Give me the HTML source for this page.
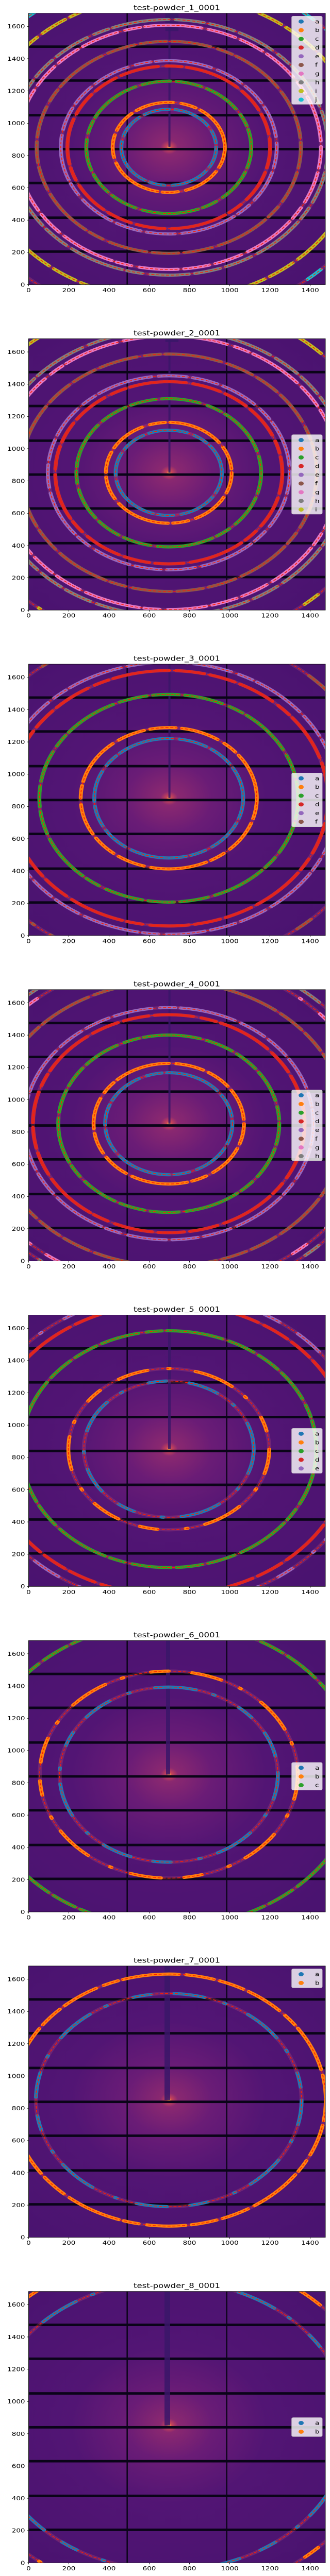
<!DOCTYPE html>
<html><head><meta charset="utf-8"><style>
html,body{margin:0;padding:0;background:#fff;width:100%;height:100%;overflow:hidden;}
svg{display:block;position:fixed;left:0;top:0;width:100vw;height:100vh;font-family:"DejaVu Sans","Liberation Sans",sans-serif;}
.glow{fill:none;stroke:#e0607a;stroke-opacity:.22;stroke-width:8}
.p{fill:none;stroke-width:7.5;stroke-linecap:round;stroke-dasharray:50 12 75 16 30 10 110 14 55 12}
.s{fill:none;stroke-width:7.5;stroke-linecap:round;stroke-dasharray:60 40 4 50 80 35 4 55 35 45}
.f{fill:none;stroke:#ff1e00;stroke-width:1.6;stroke-dasharray:6 3.5}
.t{font-size:16.5px;text-anchor:middle;fill:#000}
.tk{font-size:13.5px;fill:#000}
.lg{font-size:13.5px;fill:#000}
</style></head><body>
<svg viewBox="0 0 640 6226" preserveAspectRatio="none" xmlns="http://www.w3.org/2000/svg" xmlns:xlink="http://www.w3.org/1999/xlink">
<defs>
<clipPath id="ax"><rect x="55.5" y="32" width="575.5" height="656"/></clipPath>
<radialGradient id="bg" gradientUnits="userSpaceOnUse" cx="328" cy="356" r="420">
<stop offset="0" stop-color="#ffb040"/>
<stop offset="0.012" stop-color="#c84458"/>
<stop offset="0.04" stop-color="#8a2870"/>
<stop offset="0.2" stop-color="#6a1c76"/>
<stop offset="0.45" stop-color="#521574"/>
<stop offset="1" stop-color="#4a1370"/>
</radialGradient>
<g id="base">
<rect x="55.5" y="32" width="575.5" height="656" fill="url(#bg)"/>
<g fill="#0a0418">
<rect x="55.5" y="109.8" width="575.5" height="6"/>
<rect x="55.5" y="191.7" width="575.5" height="6"/>
<rect x="55.5" y="275.5" width="575.5" height="6"/>
<rect x="55.5" y="357.4" width="575.5" height="6"/>
<rect x="55.5" y="439.3" width="575.5" height="6"/>
<rect x="55.5" y="523.2" width="575.5" height="6"/>
<rect x="55.5" y="605.1" width="575.5" height="6"/>
<rect x="245.4" y="32" width="2.5" height="656"/>
<rect x="438.5" y="32" width="2.5" height="656"/>
</g>
</g>
<g id="axes">
<rect x="55.5" y="32" width="575.5" height="656" fill="none" stroke="#000" stroke-width="0.9"/>
<g stroke="#000" stroke-width="0.9">
<path d="M55.5 688v3.5M133.5 688v3.5M211.5 688v3.5M289.5 688v3.5M367.5 688v3.5M445.5 688v3.5M523.5 688v3.5M601.5 688v3.5"/>
<path d="M55.5 688h-3.5M55.5 610h-3.5M55.5 532h-3.5M55.5 454h-3.5M55.5 376h-3.5M55.5 298h-3.5M55.5 220h-3.5M55.5 142h-3.5M55.5 64h-3.5"/>
</g>
<g class="tk" text-anchor="middle">
<text x="55.5" y="706">0</text><text x="133.5" y="706">200</text><text x="211.5" y="706">400</text><text x="289.5" y="706">600</text><text x="367.5" y="706">800</text><text x="445.5" y="706">1000</text><text x="523.5" y="706">1200</text><text x="601.5" y="706">1400</text>
</g>
<g class="tk" text-anchor="end">
<text x="48.5" y="692.8">0</text><text x="48.5" y="614.8">200</text><text x="48.5" y="536.8">400</text><text x="48.5" y="458.8">600</text><text x="48.5" y="380.8">800</text><text x="48.5" y="302.8">1000</text><text x="48.5" y="224.8">1200</text><text x="48.5" y="146.8">1400</text><text x="48.5" y="68.8">1600</text>
</g>
</g>
</defs>

<!-- Panel 1 -->
<g>
<text class="t" x="343" y="24">test-powder_1_0001</text>
<g clip-path="url(#ax)">
<use xlink:href="#base" href="#base"/>
<rect x="326.6" y="32" width="4" height="324" fill="#3a1668" opacity="0.85"/>
<rect x="320.7" y="32" width="25.4" height="43" fill="#3a1668" opacity="0.85"/>
<g transform="translate(327.3,356.1)">
<circle class="glow" r="92"/><circle class="glow" r="108.8"/><circle class="glow" r="159.9"/><circle class="glow" r="196.6"/><circle class="glow" r="209.4"/><circle class="glow" r="256.2"/><circle class="glow" r="295.2"/><circle class="glow" r="308.9"/><circle class="glow" r="368.6"/><circle class="glow" r="417.3"/>
<circle class="p" r="92" stroke="#1f77b4"/><circle class="p" r="108.8" stroke="#ff7f0e"/><circle class="p" r="159.9" stroke="#2ca02c"/><circle class="p" r="196.6" stroke="#d62728"/><circle class="p" r="209.4" stroke="#9467bd"/><circle class="p" r="256.2" stroke="#8c564b"/><circle class="p" r="295.2" stroke="#e377c2"/><circle class="p" r="308.9" stroke="#7f7f7f"/><circle class="p" r="368.6" stroke="#bcbd22"/><circle class="s" r="417.3" stroke="#17becf"/>
<circle class="f" r="92"/><circle class="f" r="108.8"/><circle class="f" r="159.9"/><circle class="f" r="196.6"/><circle class="f" r="209.4"/><circle class="f" r="256.2"/><circle class="f" r="295.2"/><circle class="f" r="308.9"/><circle class="f" r="368.6"/><circle class="f" r="417.3"/>
</g>
</g>
<use xlink:href="#axes" href="#axes"/>
<g>
<rect x="565.7" y="39" width="59.3" height="213" rx="3" fill="#fff" fill-opacity="0.8" stroke="#ccc" stroke-width="0.8"/>
<circle cx="584" cy="52" r="5" fill="#1f77b4"/><text class="lg" x="611" y="56.5">a</text>
<circle cx="584" cy="73" r="5" fill="#ff7f0e"/><text class="lg" x="611" y="77.5">b</text>
<circle cx="584" cy="94" r="5" fill="#2ca02c"/><text class="lg" x="611" y="98.5">c</text>
<circle cx="584" cy="115" r="5" fill="#d62728"/><text class="lg" x="611" y="119.5">d</text>
<circle cx="584" cy="136" r="5" fill="#9467bd"/><text class="lg" x="611" y="140.5">e</text>
<circle cx="584" cy="157" r="5" fill="#8c564b"/><text class="lg" x="611" y="161.5">f</text>
<circle cx="584" cy="178" r="5" fill="#e377c2"/><text class="lg" x="611" y="182.5">g</text>
<circle cx="584" cy="199" r="5" fill="#7f7f7f"/><text class="lg" x="611" y="203.5">h</text>
<circle cx="584" cy="220" r="5" fill="#bcbd22"/><text class="lg" x="611" y="224.5">i</text>
<circle cx="584" cy="241" r="5" fill="#17becf"/><text class="lg" x="611" y="245.5">j</text>
</g>
</g>

<!-- Panel 2 -->
<g transform="translate(0,786.6)">
<text class="t" x="343" y="24">test-powder_2_0001</text>
<g clip-path="url(#ax)">
<use xlink:href="#base" href="#base"/>
<rect x="326.6" y="32" width="4" height="324" fill="#3a1668" opacity="0.85"/>
<rect x="320.7" y="32" width="25.4" height="8" fill="#3a1668" opacity="0.85"/>
<g transform="translate(327.3,356.1)">
<circle class="glow" r="103"/><circle class="glow" r="121.9"/><circle class="glow" r="179.1"/><circle class="glow" r="220.2"/><circle class="glow" r="234.5"/><circle class="glow" r="286.9"/><circle class="glow" r="330.6"/><circle class="glow" r="346"/><circle class="glow" r="412.8"/>
<circle class="p" r="103" stroke="#1f77b4"/><circle class="p" r="121.9" stroke="#ff7f0e"/><circle class="p" r="179.1" stroke="#2ca02c"/><circle class="p" r="220.2" stroke="#d62728"/><circle class="p" r="234.5" stroke="#9467bd"/><circle class="p" r="286.9" stroke="#8c564b"/><circle class="p" r="330.6" stroke="#e377c2"/><circle class="p" r="346" stroke="#7f7f7f"/><circle class="s" r="412.8" stroke="#bcbd22"/>
<circle class="f" r="103"/><circle class="f" r="121.9"/><circle class="f" r="179.1"/><circle class="f" r="220.2"/><circle class="f" r="234.5"/><circle class="f" r="286.9"/><circle class="f" r="330.6"/><circle class="f" r="346"/><circle class="f" r="412.8"/>
</g>
</g>
<use xlink:href="#axes" href="#axes"/>
<g>
<rect x="565.7" y="264" width="59.3" height="192" rx="3" fill="#fff" fill-opacity="0.8" stroke="#ccc" stroke-width="0.8"/>
<circle cx="584" cy="277" r="5" fill="#1f77b4"/><text class="lg" x="611" y="281.5">a</text>
<circle cx="584" cy="298" r="5" fill="#ff7f0e"/><text class="lg" x="611" y="302.5">b</text>
<circle cx="584" cy="319" r="5" fill="#2ca02c"/><text class="lg" x="611" y="323.5">c</text>
<circle cx="584" cy="340" r="5" fill="#d62728"/><text class="lg" x="611" y="344.5">d</text>
<circle cx="584" cy="361" r="5" fill="#9467bd"/><text class="lg" x="611" y="365.5">e</text>
<circle cx="584" cy="382" r="5" fill="#8c564b"/><text class="lg" x="611" y="386.5">f</text>
<circle cx="584" cy="403" r="5" fill="#e377c2"/><text class="lg" x="611" y="407.5">g</text>
<circle cx="584" cy="424" r="5" fill="#7f7f7f"/><text class="lg" x="611" y="428.5">h</text>
<circle cx="584" cy="445" r="5" fill="#bcbd22"/><text class="lg" x="611" y="449.5">i</text>
</g>
</g>

<!-- Panel 3 -->
<g transform="translate(0,1573.2)">
<text class="t" x="343" y="24">test-powder_3_0001</text>
<g clip-path="url(#ax)">
<use xlink:href="#base" href="#base"/>
<rect x="326.6" y="32" width="4" height="324" fill="#3a1668" opacity="0.85"/>
<g transform="translate(327.3,356.1)">
<circle class="glow" r="144.4"/><circle class="glow" r="170.8"/><circle class="glow" r="251"/><circle class="glow" r="308.7"/><circle class="glow" r="328.8"/><circle class="glow" r="402.2"/>
<circle class="p" r="144.4" stroke="#1f77b4"/><circle class="p" r="170.8" stroke="#ff7f0e"/><circle class="p" r="251" stroke="#2ca02c"/><circle class="p" r="308.7" stroke="#d62728"/><circle class="p" r="328.8" stroke="#9467bd"/><circle class="s" r="402.2" stroke="#8c564b"/>
<circle class="f" r="144.4"/><circle class="f" r="170.8"/><circle class="f" r="251"/><circle class="f" r="308.7"/><circle class="f" r="328.8"/><circle class="f" r="402.2"/>
</g>
</g>
<use xlink:href="#axes" href="#axes"/>
<g>
<rect x="565.7" y="295" width="59.3" height="130" rx="3" fill="#fff" fill-opacity="0.8" stroke="#ccc" stroke-width="0.8"/>
<circle cx="584" cy="308" r="5" fill="#1f77b4"/><text class="lg" x="611" y="312.5">a</text>
<circle cx="584" cy="329" r="5" fill="#ff7f0e"/><text class="lg" x="611" y="333.5">b</text>
<circle cx="584" cy="350" r="5" fill="#2ca02c"/><text class="lg" x="611" y="354.5">c</text>
<circle cx="584" cy="371" r="5" fill="#d62728"/><text class="lg" x="611" y="375.5">d</text>
<circle cx="584" cy="392" r="5" fill="#9467bd"/><text class="lg" x="611" y="396.5">e</text>
<circle cx="584" cy="413" r="5" fill="#8c564b"/><text class="lg" x="611" y="417.5">f</text>
</g>
</g>

<!-- Panel 4 -->
<g transform="translate(0,2359.8)">
<text class="t" x="343" y="24">test-powder_4_0001</text>
<g clip-path="url(#ax)">
<use xlink:href="#base" href="#base"/>
<rect x="326.6" y="32" width="4" height="324" fill="#3a1668" opacity="0.85"/>
<g transform="translate(327.3,356.1)">
<circle class="glow" r="123.3"/><circle class="glow" r="145.8"/><circle class="glow" r="214.3"/><circle class="glow" r="263.4"/><circle class="glow" r="280.6"/><circle class="glow" r="343.3"/><circle class="glow" r="395.6"/><circle class="glow" r="413.9"/>
<circle class="p" r="123.3" stroke="#1f77b4"/><circle class="p" r="145.8" stroke="#ff7f0e"/><circle class="p" r="214.3" stroke="#2ca02c"/><circle class="p" r="263.4" stroke="#d62728"/><circle class="p" r="280.6" stroke="#9467bd"/><circle class="p" r="343.3" stroke="#8c564b"/><circle class="s" r="395.6" stroke="#e377c2"/><circle class="s" r="413.9" stroke="#7f7f7f"/>
<circle class="f" r="123.3"/><circle class="f" r="145.8"/><circle class="f" r="214.3"/><circle class="f" r="263.4"/><circle class="f" r="280.6"/><circle class="f" r="343.3"/><circle class="f" r="395.6"/><circle class="f" r="413.9"/>
</g>
</g>
<use xlink:href="#axes" href="#axes"/>
<g>
<rect x="565.7" y="274.5" width="59.3" height="171" rx="3" fill="#fff" fill-opacity="0.8" stroke="#ccc" stroke-width="0.8"/>
<circle cx="584" cy="287.5" r="5" fill="#1f77b4"/><text class="lg" x="611" y="292">a</text>
<circle cx="584" cy="308.5" r="5" fill="#ff7f0e"/><text class="lg" x="611" y="313">b</text>
<circle cx="584" cy="329.5" r="5" fill="#2ca02c"/><text class="lg" x="611" y="334">c</text>
<circle cx="584" cy="350.5" r="5" fill="#d62728"/><text class="lg" x="611" y="355">d</text>
<circle cx="584" cy="371.5" r="5" fill="#9467bd"/><text class="lg" x="611" y="376">e</text>
<circle cx="584" cy="392.5" r="5" fill="#8c564b"/><text class="lg" x="611" y="397">f</text>
<circle cx="584" cy="413.5" r="5" fill="#e377c2"/><text class="lg" x="611" y="418">g</text>
<circle cx="584" cy="434.5" r="5" fill="#7f7f7f"/><text class="lg" x="611" y="439">h</text>
</g>
</g>

<!-- Panel 5 -->
<g transform="translate(0,3146.4)">
<text class="t" x="343" y="24">test-powder_5_0001</text>
<g clip-path="url(#ax)">
<use xlink:href="#base" href="#base"/>
<rect x="326" y="32" width="5" height="324" fill="#3a1668" opacity="0.85"/>
<g transform="translate(327.3,356.1)">
<circle class="glow" r="164.7"/><circle class="glow" r="194.8"/><circle class="glow" r="286.2"/><circle class="glow" r="351.9"/><circle class="glow" r="374.8"/>
<circle class="s" r="164.7" stroke="#1f77b4"/><circle class="s" r="194.8" stroke="#ff7f0e"/><circle class="p" r="286.2" stroke="#2ca02c"/><circle class="p" r="351.9" stroke="#d62728"/><circle class="s" r="374.8" stroke="#9467bd"/>
<circle class="f" r="164.7"/><circle class="f" r="194.8"/><circle class="f" r="286.2"/><circle class="f" r="351.9"/><circle class="f" r="374.8"/>
</g>
</g>
<use xlink:href="#axes" href="#axes"/>
<g>
<rect x="565.7" y="305.8" width="59.3" height="108.5" rx="3" fill="#fff" fill-opacity="0.8" stroke="#ccc" stroke-width="0.8"/>
<circle cx="584" cy="318.8" r="5" fill="#1f77b4"/><text class="lg" x="611" y="323.3">a</text>
<circle cx="584" cy="339.8" r="5" fill="#ff7f0e"/><text class="lg" x="611" y="344.3">b</text>
<circle cx="584" cy="360.8" r="5" fill="#2ca02c"/><text class="lg" x="611" y="365.3">c</text>
<circle cx="584" cy="381.8" r="5" fill="#d62728"/><text class="lg" x="611" y="386.3">d</text>
<circle cx="584" cy="402.8" r="5" fill="#9467bd"/><text class="lg" x="611" y="407.3">e</text>
</g>
</g>

<!-- Panel 6 -->
<g transform="translate(0,3933)">
<text class="t" x="343" y="24">test-powder_6_0001</text>
<g clip-path="url(#ax)">
<use xlink:href="#base" href="#base"/>
<rect x="322" y="32" width="8" height="324" fill="#3a1668" opacity="0.85"/>
<g transform="translate(327.3,356.1)">
<circle class="glow" r="211.6"/><circle class="glow" r="250.2"/><circle class="glow" r="367.8"/>
<circle class="s" r="211.6" stroke="#1f77b4"/><circle class="s" r="250.2" stroke="#ff7f0e"/><circle class="p" r="367.8" stroke="#2ca02c"/>
<circle class="f" r="211.6"/><circle class="f" r="250.2"/><circle class="f" r="367.8"/>
</g>
</g>
<use xlink:href="#axes" href="#axes"/>
<g>
<rect x="565.7" y="326.7" width="59.3" height="66.7" rx="3" fill="#fff" fill-opacity="0.8" stroke="#ccc" stroke-width="0.8"/>
<circle cx="584" cy="339.7" r="5" fill="#1f77b4"/><text class="lg" x="611" y="344.2">a</text>
<circle cx="584" cy="360.7" r="5" fill="#ff7f0e"/><text class="lg" x="611" y="365.2">b</text>
<circle cx="584" cy="381.7" r="5" fill="#2ca02c"/><text class="lg" x="611" y="386.2">c</text>
</g>
</g>

<!-- Panel 7 -->
<g transform="translate(0,4719.6)">
<text class="t" x="343" y="24">test-powder_7_0001</text>
<g clip-path="url(#ax)">
<use xlink:href="#base" href="#base"/>
<rect x="319" y="32" width="11" height="324" fill="#3a1668" opacity="0.85"/>
<g transform="translate(327.3,356.1)">
<circle class="glow" r="257.6"/><circle class="glow" r="304.6"/>
<circle class="s" r="257.6" stroke="#1f77b4"/><circle class="p" r="304.6" stroke="#ff7f0e"/>
<circle class="f" r="257.6"/><circle class="f" r="304.6"/>
</g>
</g>
<use xlink:href="#axes" href="#axes"/>
<g>
<rect x="565.7" y="39" width="59.3" height="45.8" rx="3" fill="#fff" fill-opacity="0.8" stroke="#ccc" stroke-width="0.8"/>
<circle cx="584" cy="52" r="5" fill="#1f77b4"/><text class="lg" x="611" y="56.5">a</text>
<circle cx="584" cy="73" r="5" fill="#ff7f0e"/><text class="lg" x="611" y="77.5">b</text>
</g>
</g>

<!-- Panel 8 -->
<g transform="translate(0,5506.2)">
<text class="t" x="343" y="24">test-powder_8_0001</text>
<g clip-path="url(#ax)">
<use xlink:href="#base" href="#base"/>
<rect x="319" y="32" width="11" height="324" fill="#3a1668" opacity="0.85"/>
<g transform="translate(327.3,356.1)">
<circle class="glow" r="349.6"/><circle class="glow" r="413.4"/>
<circle class="s" r="349.6" stroke="#1f77b4"/><circle class="s" r="413.4" stroke="#ff7f0e"/>
<circle class="f" r="349.6"/><circle class="f" r="413.4"/>
</g>
</g>
<use xlink:href="#axes" href="#axes"/>
<g>
<rect x="565.7" y="337" width="59.3" height="45.8" rx="3" fill="#fff" fill-opacity="0.8" stroke="#ccc" stroke-width="0.8"/>
<circle cx="584" cy="350" r="5" fill="#1f77b4"/><text class="lg" x="611" y="354.5">a</text>
<circle cx="584" cy="371" r="5" fill="#ff7f0e"/><text class="lg" x="611" y="375.5">b</text>
</g>
</g>
</svg>
</body></html>
